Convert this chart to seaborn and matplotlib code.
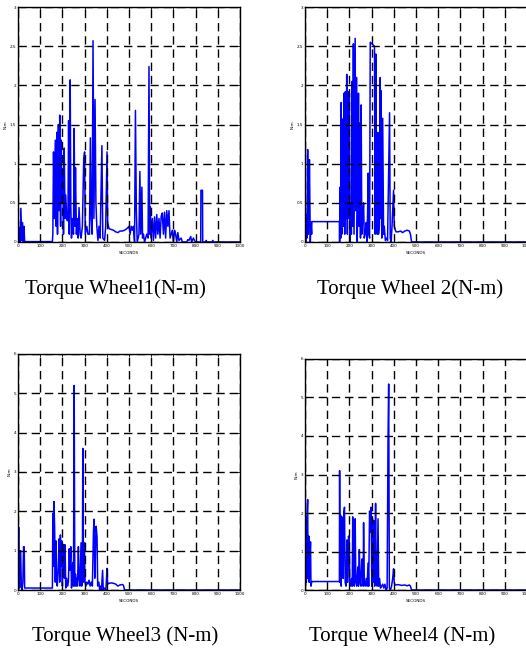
"""Four reaction-wheel torque traces (N-m vs seconds) in a 2x2 layout."""
import matplotlib
matplotlib.use("Agg")
import matplotlib.pyplot as plt
import numpy as np
import pandas as pd
import seaborn as sns

# Wheel 1 torque (s, N-m)
w1_t = [0, 3, 6, 9, 13, 17, 20, 24, 27, 30, 31, 155, 157, 160, 164, 168, 172, 175, 178,
        182, 185, 188, 190, 192, 195, 198, 202, 205, 208, 212, 215, 220, 225, 228, 231,
        235, 238, 241, 244, 250, 253, 256, 259, 263, 267, 271, 275, 280, 284, 290, 296,
        300, 303, 310, 315, 322, 326, 330, 334, 338, 342, 347, 351, 355, 360, 365, 370,
        378, 382, 390, 395, 401, 404, 410, 420, 430, 440, 450, 460, 470, 480, 490, 500,
        505, 510, 515, 520, 525, 529, 533, 537, 545, 549, 553, 558, 561, 565, 570, 580,
        586, 590, 593, 596, 599, 605, 610, 615, 620, 625, 630, 635, 640, 645, 650, 655,
        660, 665, 670, 675, 680, 685, 690, 695, 700, 705, 710, 715, 720, 725, 735, 740,
        760, 765, 770, 778, 782, 790, 795, 800, 823, 824, 831, 832, 845, 848, 850, 875,
        877, 880, 1000]
w1_v = [0.2, 0.05, 0.18, 0.0, 0.43, 0.02, 0.25, 0.0, 0.2, 0.0, 0.005, 0.005, 0.1, 1.15,
        0.3, 1.3, 0.2, 1.4, 0.1, 1.5, 0.4, 1.62, 0.6, 0.2, 1.3, 0.5, 0.9, 0.1, 1.2, 0.3,
        0.6, 0.28, 0.27, 1.55, 0.1, 2.07, 0.45, 0.05, 0.3, 0.1, 1.45, 0.2, 0.95, 0.1, 0.3,
        0.05, 0.44, 0.1, 0.05, 0.2, 1.05, 1.15, 0.1, 0.2, 0.1, 0.1, 1.33, 0.3, 0.1, 2.57,
        0.3, 1.82, 0.5, 0.2, 0.02, 0.2, 0.05, 1.23, 0.05, 0.02, 0.2, 1.15, 0.25, 0.17,
        0.16, 0.15, 0.13, 0.12, 0.14, 0.14, 0.15, 0.17, 0.2, 0.1, 0.2, 0.15, 0.2, 0.0,
        1.68, 0.4, 0.0, 0.1, 0.9, 0.1, 0.7, 0.05, 0.1, 0.0, 0.1, 0.05, 2.24, 0.1, 0.45,
        0.05, 0.3, 0.02, 0.32, 0.05, 0.35, 0.1, 0.3, 0.05, 0.33, 0.37, 0.1, 0.38, 0.05,
        0.4, 0.2, 0.4, 0.05, 0.1, 0.15, 0.0, 0.15, 0.1, 0.0, 0.12, 0.02, 0.05, 0.0, 0.0,
        0.03, 0.02, 0.07, 0.0, 0.05, 0.02, 0.0, 0.0, 0.66, 0.66, 0.0, 0.0, 0.02, 0.0, 0.0,
        0.02, 0.0, 0.0]

# Wheel 2 torque
w2_t = [0, 3, 6, 9, 12, 15, 18, 20, 24, 27, 30, 31, 155, 156, 158, 161, 163, 166, 169,
        172, 176, 179, 182, 185, 188, 191, 194, 197, 200, 203, 206, 209, 212, 215, 218,
        221, 226, 229, 232, 235, 238, 241, 244, 248, 250, 253, 256, 260, 264, 267, 271,
        276, 279, 282, 285, 288, 291, 294, 313, 316, 319, 322, 325, 328, 331, 335, 339,
        341, 343, 346, 350, 354, 357, 362, 368, 372, 381, 384, 388, 392, 399, 402, 410,
        420, 430, 440, 450, 460, 470, 475, 480, 1000]
w2_v = [0.3, 0.0, 0.35, 0.05, 1.18, 0.1, 0.3, 1.05, 0.0, 0.25, 0.1, 0.26, 0.26, 0.0,
        0.7, 0.05, 1.78, 0.1, 1.57, 0.2, 1.9, 0.1, 1.92, 0.3, 2.14, 0.1, 1.92, 0.3, 1.9,
        0.0, 0.5, 0.1, 2.05, 0.2, 2.53, 0.1, 2.6, 0.4, 2.1, 0.0, 0.5, 1.9, 0.2, 1.52,
        0.05, 1.75, 0.1, 0.3, 0.5, 0.05, 0.1, 0.25, 0.0, 0.35, 0.88, 0.1, 0.05, 2.55,
        2.5, 0.1, 2.4, 0.3, 0.1, 1.4, 0.1, 0.2, 2.1, 0.3, 1.93, 0.05, 1.58, 0.1, 0.2,
        0.02, 0.05, 0.02, 1.65, 0.05, 0.0, 0.2, 0.66, 0.2, 0.13, 0.13, 0.14, 0.12, 0.14,
        0.15, 0.14, 0.1, 0.0, 0.0]

# Wheel 3 torque
w3_t = [0, 3, 5, 7, 9, 12, 15, 18, 22, 25, 28, 30, 155, 157, 160, 162, 165, 168, 171,
        174, 177, 181, 185, 188, 191, 194, 197, 200, 203, 206, 209, 212, 215, 219, 223,
        227, 231, 234, 238, 241, 244, 247, 250, 253, 256, 259, 262, 265, 268, 272, 275,
        279, 284, 287, 290, 292, 295, 299, 302, 306, 310, 315, 320, 325, 330, 335, 340,
        343, 346, 349, 352, 356, 359, 364, 368, 372, 376, 381, 384, 390, 396, 401, 404,
        410, 420, 430, 440, 450, 460, 470, 475, 480, 1000]
w3_v = [0.0, 1.6, 0.3, 0.05, 1.0, 1.0, 0.1, 0.0, 0.2, 1.1, 1.1, 0.05, 0.05, 1.95, 0.6,
        2.25, 1.6, 0.2, 1.25, 0.3, 0.1, 0.5, 1.3, 0.2, 1.4, 0.6, 1.25, 0.1, 1.15, 1.15,
        0.3, 1.15, 0.05, 0.3, 0.1, 0.2, 1.05, 0.5, 1.1, 0.05, 0.3, 0.7, 0.1, 5.2, 0.1,
        0.4, 0.1, 0.3, 0.1, 1.1, 0.3, 0.1, 1.2, 0.1, 0.5, 3.6, 0.2, 1.2, 0.2, 0.1, 0.2,
        0.15, 0.25, 0.1, 0.2, 0.1, 1.5, 1.8, 0.3, 1.0, 1.62, 1.35, 0.1, 0.2, 0.0, 0.1,
        0.0, 0.5, 0.0, 0.05, 0.0, 0.55, 0.15, 0.17, 0.18, 0.17, 0.15, 0.1, 0.13, 0.14,
        0.12, 0.0, 0.0]

# Wheel 4 torque
w4_t = [0, 2, 4, 6, 9, 12, 14, 17, 19, 22, 25, 27, 30, 31, 155, 156, 158, 160, 163,
        166, 169, 172, 175, 178, 181, 185, 189, 192, 196, 199, 202, 206, 210, 213, 215,
        218, 222, 226, 229, 233, 238, 241, 245, 248, 252, 256, 259, 262, 264, 267, 271,
        276, 280, 284, 287, 291, 294, 298, 301, 304, 307, 311, 314, 318, 321, 325, 329,
        332, 336, 340, 345, 350, 355, 360, 365, 370, 374, 377, 380, 385, 390, 395, 399,
        402, 405, 420, 435, 450, 460, 470, 475, 480, 1000]
w4_v = [1.9, 0.1, 1.9, 0.2, 1.85, 2.35, 0.3, 1.4, 0.2, 0.8, 1.25, 0.1, 0.2, 0.22, 0.22,
        3.1, 0.2, 1.95, 0.1, 1.9, 1.6, 0.3, 2.0, 2.15, 0.2, 0.1, 1.3, 0.2, 1.4, 1.35,
        0.2, 0.1, 0.3, 0.1, 1.9, 0.2, 0.1, 1.85, 0.2, 0.1, 0.6, 0.1, 1.05, 0.2, 0.1, 0.8,
        0.8, 0.1, 1.75, 0.2, 0.1, 0.3, 0.1, 0.7, 0.1, 2.05, 1.5, 2.15, 0.1, 1.85, 0.2,
        1.8, 0.1, 2.25, 0.2, 0.1, 1.85, 0.1, 0.3, 0.05, 0.1, 0.15, 0.05, 0.15, 0.0, 0.05,
        3.9, 5.35, 0.05, 0.0, 0.1, 0.3, 0.55, 0.2, 0.13, 0.14, 0.12, 0.13, 0.11, 0.13,
        0.1, 0.0, 0.0]

titles = ["Torque Wheel1(N-m)", "Torque Wheel 2(N-m)",
          "Torque Wheel3 (N-m)", "Torque Wheel4 (N-m)"]
y_max = [3, 3, 6, 6]
y_step = [0.5, 0.5, 1, 1]
x_ticks = list(range(0, 1001, 100))

sns.set_style("white")
plt.rcParams["font.family"] = ["DejaVu Sans"]
plt.rcParams.update({"text.color": "black", "axes.labelcolor": "black",
                     "xtick.color": "black", "ytick.color": "black"})

fig = plt.figure(figsize=(5.26, 6.5), dpi=100)

# [left, bottom, width, height] in figure fraction
boxes = [[0.0342, 0.6277, 0.4221, 0.3615],
         [0.5798, 0.6277, 0.4221, 0.3615],
         [0.0342, 0.0923, 0.4221, 0.3631],
         [0.5798, 0.0923, 0.4221, 0.3554]]
title_xy = [(115, 289), (410, 289), (125, 636), (402, 636)]

series = [(w1_t, w1_v), (w2_t, w2_v), (w3_t, w3_v), (w4_t, w4_v)]

for i, (t, v) in enumerate(series):
    ax = fig.add_axes(boxes[i])
    df = pd.DataFrame({"t": t, "v": v})
    sns.lineplot(data=df, x="t", y="v", color="#0000ff", linewidth=1.1,
                 sort=False, estimator=None, ax=ax)
    ax.set_xlim(0, 1000)
    ax.set_ylim(0, y_max[i])
    ax.set_xticks(x_ticks)
    yt = np.arange(0, y_max[i] + 1e-9, y_step[i])
    ax.set_yticks(yt)
    ax.set_yticklabels([f"{y:g}" for y in yt])
    ax.grid(True, color="black", linestyle=(0, (6, 3.5)), linewidth=1.0)
    ax.set_axisbelow(False)
    ax.tick_params(direction="in", length=2, width=0.6, labelsize=3, pad=1.5,
                   top=True, right=True)
    for sp in ax.spines.values():
        sp.set_color("black")
        sp.set_linewidth(1.0)
    ax.set_xlabel("SECONDS", fontsize=3, labelpad=2)
    ax.set_ylabel("N-m", fontsize=3, labelpad=1)

    tx, ty = title_xy[i]
    fig.text(tx / 526, 1 - ty / 650, titles[i], ha="center", va="center",
             fontsize=15, color="black",
             family=["Liberation Serif", "DejaVu Serif"])

fig.savefig("out.png", dpi=100)
